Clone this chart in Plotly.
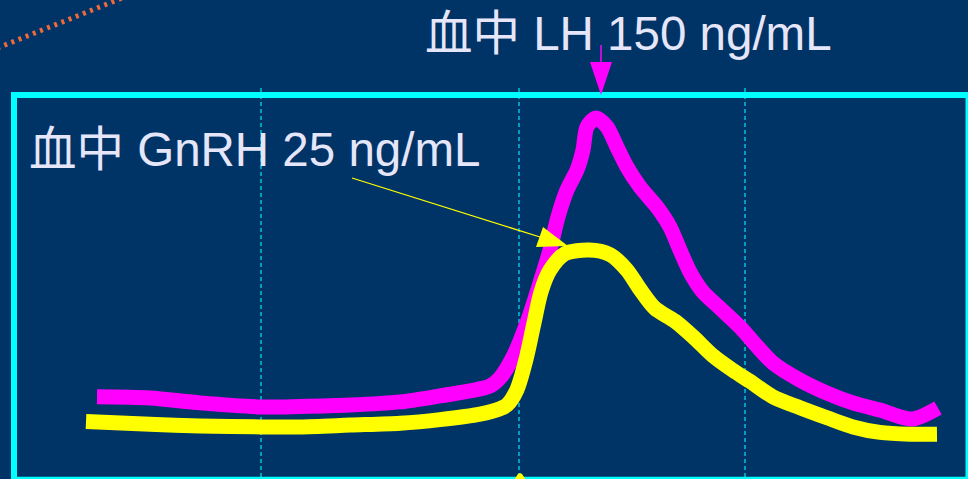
import plotly.graph_objects as go

# Time axis (minutes) and hormone levels in blood
lh_time = [9.7, 15.0, 20.0, 26.2, 30.0, 35.0, 40.0, 44.0, 47.0, 49.0, 50.0, 51.3, 52.7,
           54.0, 55.0, 55.8, 56.7, 57.7, 58.3, 58.7, 59.6, 60.7, 61.7, 62.7, 64.0, 65.7,
           67.0, 68.0, 69.0, 70.3, 72.0, 74.0, 77.3, 80.0, 82.7, 85.3, 88.0, 91.2, 93.8]
lh_level = [33.8, 33.3, 31.3, 29.6, 29.8, 30.4, 31.7, 34.2, 36.3, 38.3, 41.7, 50.4, 64.6,
            81.3, 95.0, 108.8, 120.0, 128.3, 136.7, 146.3, 150.0, 146.3, 137.9, 129.6, 121.3, 112.9,
            104.6, 95.0, 85.8, 77.5, 70.8, 62.9, 47.9, 40.8, 35.4, 31.3, 28.3, 24.6, 29.2]

gnrh_time = [8.6, 15.0, 20.0, 26.2, 30.0, 35.0, 40.0, 44.0, 48.0, 50.0, 50.7, 51.7, 52.6,
             53.4, 54.1, 55.0, 56.5, 58.9, 61.0, 62.7, 64.0, 65.5, 67.5, 69.3, 71.3, 73.3,
             75.0, 77.3, 80.0, 82.7, 85.3, 88.0, 91.0, 93.7]
gnrh_level = [6.2, 5.9, 5.7, 5.6, 5.6, 5.8, 6.0, 6.4, 7.0, 7.6, 8.0, 9.7, 13.0,
              17.0, 20.4, 22.8, 24.6, 25.0, 24.5, 22.8, 20.7, 18.6, 17.2, 15.5, 13.4, 11.8,
              10.6, 8.9, 7.7, 6.6, 5.6, 5.0, 4.8, 4.8]

grid_times = [26.1, 51.9, 74.5]

lh_label = "血中 LH 150 ng/mL"
gnrh_label = "血中 GnRH 25 ng/mL"

W, H = 968, 479
BG = "#003366"
TEXT = "#E6E6FA"
MAGENTA = "#FF00FF"
YELLOW = "#FFFF00"
CYAN = "#00FFFF"


def px(x):
    return x / W


def py(y):
    return 1 - y / H


def tri_path(pts):
    return "M " + " L ".join(f"{px(x):.5f},{py(y):.5f}" for x, y in pts) + " Z"


fig = go.Figure()

fig.add_trace(go.Scatter(
    x=lh_time, y=lh_level, mode="lines", yaxis="y",
    line=dict(color=MAGENTA, width=15, shape="spline", smoothing=0.8),
    hoverinfo="skip", showlegend=False,
))
fig.add_trace(go.Scatter(
    x=gnrh_time, y=gnrh_level, mode="lines", yaxis="y2",
    line=dict(color=YELLOW, width=15, shape="spline", smoothing=0.8),
    hoverinfo="skip", showlegend=False,
))

shapes = []

# dashed time markers
for t in grid_times:
    shapes.append(dict(type="line", xref="x", yref="paper", x0=t, x1=t,
                       y0=py(88), y1=py(479), layer="below",
                       line=dict(color="#00C4DC", width=1.5, dash="4px,3px")))

# orange dotted diagonal in the upper-left corner
shapes.append(dict(type="line", xref="paper", yref="paper",
                   x0=px(-10), y0=py(51), x1=px(130), y1=py(-5.2),
                   line=dict(color="#EE6A3A", width=5, dash="3px,4.7px")))

# frame
shapes.append(dict(type="rect", xref="paper", yref="paper",
                   x0=px(14), y0=py(95), x1=px(968.5), y1=py(479.7),
                   line=dict(color=CYAN, width=6), layer="below"))

# LH arrow
shapes.append(dict(type="line", xref="paper", yref="paper",
                   x0=px(601), y0=py(45), x1=px(601), y1=py(63),
                   line=dict(color=MAGENTA, width=1.5)))
shapes.append(dict(type="path", xref="paper", yref="paper",
                   path=tri_path([(590, 62), (612, 62), (601, 95)]),
                   fillcolor=MAGENTA, line=dict(width=0)))

# GnRH arrow
shapes.append(dict(type="line", xref="paper", yref="paper",
                   x0=px(352), y0=py(178), x1=px(540), y1=py(237),
                   line=dict(color=YELLOW, width=1.3)))
shapes.append(dict(type="path", xref="paper", yref="paper",
                   path=tri_path([(543, 227), (536, 247), (568, 246)]),
                   fillcolor=YELLOW, line=dict(width=0)))

# small marker at the bottom edge
shapes.append(dict(type="path", xref="paper", yref="paper",
                   path=tri_path([(514, 480), (526, 480), (522, 474), (520, 473), (518, 474)]),
                   fillcolor=YELLOW, line=dict(width=0)))

font = dict(family="Liberation Sans, Arial, Noto Sans CJK SC, sans-serif", size=47.5, color=TEXT)
annotations = [
    dict(text=lh_label, xref="paper", yref="paper", x=px(423), y=py(33),
         xanchor="left", yanchor="middle", showarrow=False, font=font),
    dict(text=gnrh_label, xref="paper", yref="paper", x=px(27), y=py(150),
         xanchor="left", yanchor="middle", showarrow=False, font=font),
]

fig.update_layout(
    width=W, height=H,
    margin=dict(l=0, r=0, t=0, b=0),
    paper_bgcolor=BG, plot_bgcolor=BG,
    xaxis=dict(range=[0, 96.8], visible=False, fixedrange=True),
    yaxis=dict(range=[-0.42, 199.17], visible=False, fixedrange=True),
    yaxis2=dict(range=[-0.11, 52.41], visible=False, overlaying="y", fixedrange=True),
    shapes=shapes,
    annotations=annotations,
    showlegend=False,
)

fig.write_html("out.html", config={"displayModeBar": False})
